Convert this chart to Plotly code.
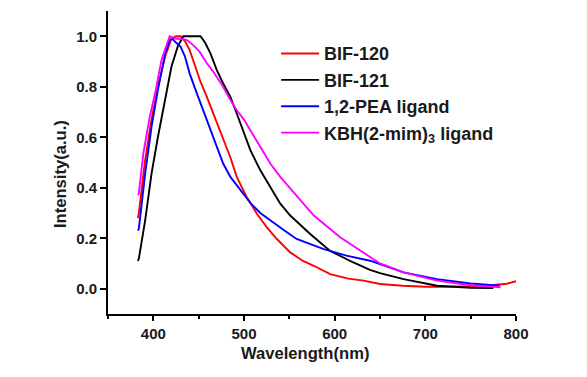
import plotly.graph_objects as go

# BIF-120 (red)
wl_bif120 = [383, 384, 391, 398, 405, 413, 420, 425, 430, 435, 440, 446, 452, 459, 466, 474, 480, 485,
             492, 503, 514, 525, 536, 551, 565, 577, 595, 615, 632, 650, 675, 700, 725, 750, 775, 790, 800]
int_bif120 = [0.28, 0.30, 0.51, 0.67, 0.80, 0.92, 0.99, 1.00, 1.00, 0.98, 0.946, 0.88, 0.82, 0.76, 0.694,
              0.62, 0.56, 0.52, 0.443, 0.363, 0.298, 0.244, 0.198, 0.144, 0.11, 0.091, 0.058, 0.04, 0.032,
              0.019, 0.012, 0.008, 0.008, 0.01, 0.015, 0.02, 0.03]

# BIF-121 (black)
wl_bif121 = [383, 384, 391, 398, 405, 413, 420, 427, 433, 452, 457, 463, 470, 477, 485, 492, 499, 507,
             518, 529, 540, 551, 573, 595, 620, 639, 650, 676, 700, 713, 750, 775]
int_bif121 = [0.11, 0.119, 0.271, 0.456, 0.60, 0.747, 0.88, 0.96, 1.0, 1.0, 0.975, 0.932, 0.866, 0.813,
              0.76, 0.694, 0.628, 0.549, 0.469, 0.403, 0.337, 0.29, 0.217, 0.15, 0.105, 0.075, 0.062,
              0.038, 0.02, 0.012, 0.004, 0.003]

# 1,2-PEA ligand (blue)
wl_pea = [383, 384, 391, 398, 405, 413, 418, 421, 425, 430, 435, 440, 448, 455, 462, 470, 477, 485, 496,
          507, 518, 529, 543, 558, 588, 613, 639, 650, 676, 713, 750, 782]
int_pea = [0.23, 0.238, 0.456, 0.641, 0.787, 0.93, 0.985, 0.99, 0.975, 0.959, 0.919, 0.853, 0.774, 0.707,
           0.635, 0.562, 0.496, 0.443, 0.39, 0.34, 0.30, 0.27, 0.235, 0.197, 0.157, 0.131, 0.111, 0.098,
           0.065, 0.038, 0.021, 0.012]

# KBH(2-mim)3 ligand (magenta)
wl_kbh = [383, 384, 389, 396, 402, 409, 418, 425, 431, 437, 444, 451, 459, 466, 477, 485, 492, 500, 507,
          518, 529, 540, 551, 562, 577, 606, 632, 650, 676, 713, 750, 783]
int_kbh = [0.37, 0.377, 0.536, 0.68, 0.774, 0.906, 1.0, 0.99, 0.99, 0.985, 0.965, 0.939, 0.893, 0.86,
           0.80, 0.747, 0.707, 0.67, 0.628, 0.562, 0.496, 0.443, 0.397, 0.35, 0.29, 0.204, 0.144, 0.10,
           0.065, 0.032, 0.014, 0.006]

series = [
    ("BIF-120", wl_bif120, int_bif120, "#FF0000"),
    ("BIF-121", wl_bif121, int_bif121, "#000000"),
    ("1,2-PEA ligand", wl_pea, int_pea, "#0000FF"),
    ("KBH(2-mim)<sub>3</sub> ligand", wl_kbh, int_kbh, "#FF00FF"),
]

x_title = "Wavelength(nm)"
y_title = "Intensity(a.u.)"

FONT = "Liberation Sans, Arial, sans-serif"
TXT = "#1a1a1a"

fig = go.Figure()
for name, x, y, c in series:
    fig.add_trace(go.Scatter(x=x, y=y, mode="lines", name=name,
                             line=dict(color=c, width=1.9)))

fig.update_layout(
    width=579, height=369,
    margin=dict(l=100, r=71, t=3, b=63, autoexpand=False),
    paper_bgcolor="white", plot_bgcolor="white",
    font=dict(family=FONT, color=TXT, size=15, weight="bold"),
    showlegend=True,
    legend=dict(x=0.412, y=0.92, xanchor="left", yanchor="top",
                bgcolor="rgba(0,0,0,0)", font=dict(size=18, family=FONT, weight="bold", color=TXT),
                itemwidth=38, tracegroupgap=0),
    annotations=[
        dict(text=x_title, xref="paper", yref="paper", x=0.483, y=-0.129,
             xanchor="center", yanchor="middle", showarrow=False,
             font=dict(size=16.6, family=FONT, weight="bold", color=TXT)),
        dict(text=y_title, xref="paper", yref="paper", x=-0.1176, y=0.462,
             xanchor="center", yanchor="middle", showarrow=False, textangle=-90,
             font=dict(size=16.6, family=FONT, weight="bold", color=TXT)),
    ],
)
fig.update_xaxes(
    range=[350, 800], tick0=0, dtick=100, showline=True, linecolor="black", linewidth=2,
    ticks="outside", ticklen=5, tickwidth=2, tickcolor="black", showgrid=False, zeroline=False,
    tickfont=dict(size=15, family=FONT, weight="bold", color=TXT),
    minor=dict(dtick=50, ticks="outside", ticklen=3, tickwidth=2, tickcolor="black", showgrid=False),
)
fig.update_yaxes(
    range=[-0.1, 1.1], tick0=0, dtick=0.2, tickformat=".1f", showline=True, linecolor="black",
    linewidth=2, ticks="outside", ticklen=6, tickwidth=2, tickcolor="black", showgrid=False,
    zeroline=False, tickfont=dict(size=15, family=FONT, weight="bold", color=TXT),
)

fig.write_html("out.html")
